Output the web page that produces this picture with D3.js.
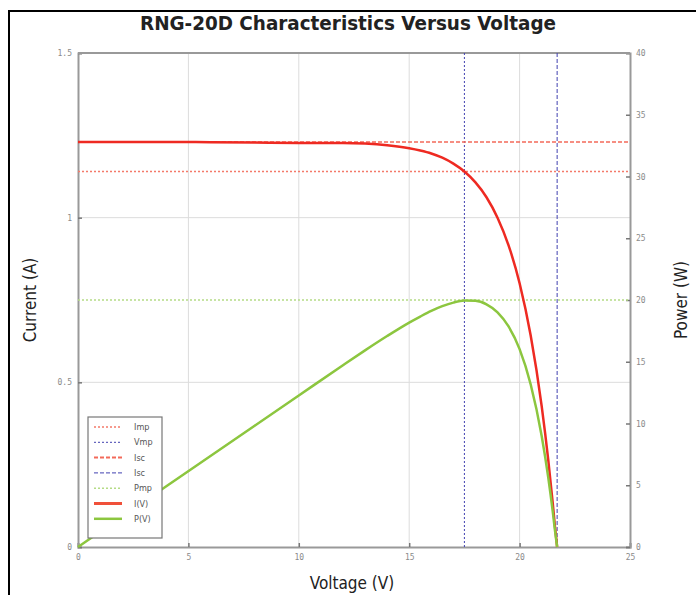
<!DOCTYPE html>
<html>
<head>
<meta charset="utf-8">
<script src="https://cdn.jsdelivr.net/npm/d3@7"></script>
<style>
  body { margin: 0; background: #fff; }
  .tick text { font-family: "DejaVu Sans Mono", monospace; font-size: 8px; fill: #8a8a8a; }
</style>
</head>
<body>
<div id="chart"></div>
<script>
// data
var voltage = [0, 2, 4, 6, 8, 10, 12, 13, 14, 15, 15.5, 16, 16.5, 17, 17.5, 18, 18.5, 19, 19.5, 20, 20.5, 21, 21.3, 21.5, 21.6, 21.7];
var current = [1.23, 1.23, 1.23, 1.229, 1.228, 1.227, 1.227, 1.225, 1.22, 1.211, 1.204, 1.195, 1.182, 1.164, 1.14, 1.107, 1.062, 1.0, 0.916, 0.801, 0.643, 0.428, 0.263, 0.134, 0.063, 0];
var power = [0, 2.46, 4.92, 7.37, 9.82, 12.27, 14.72, 15.92, 17.08, 18.17, 18.66, 19.12, 19.5, 19.79, 19.95, 19.93, 19.65, 19.0, 17.86, 16.02, 13.18, 8.99, 5.6, 2.88, 1.36, 0];

var Imp = 1.14, Vmp = 17.5, Isc = 1.23, Voc = 21.7, Pmp = 20;

var xTicks = [0, 5, 10, 15, 20, 25];
var yTicks = [0, 0.5, 1, 1.5];
var y2Ticks = [0, 5, 10, 15, 20, 25, 30, 35, 40];

var legendNames = ["Imp", "Vmp", "Isc", "Isc", "Pmp", "I(V)", "P(V)"];

var svgWidth = 696, svgHeight = 595;
var margin = {top: 53, right: 66, bottom: 48, left: 78};
var width = svgWidth - margin.left - margin.right;
var height = svgHeight - margin.top - margin.bottom;

var red = "#ee2a22", green = "#8cc63f", blue = "#4040b0";
var condensed = "'DejaVu Sans Condensed', 'Liberation Sans Narrow', 'Liberation Sans', sans-serif";

var svg = d3.select("#chart").append("svg")
  .attr("width", svgWidth)
  .attr("height", svgHeight);

// outer frame (left + top)
svg.append("path")
  .attr("d", "M9,595 L9,11 L696,11")
  .attr("fill", "none")
  .attr("stroke", "#000")
  .attr("stroke-width", 2);

var g = svg.append("g").attr("transform", `translate(${margin.left},${margin.top})`);

var x = d3.scaleLinear().domain([0, 25]).range([0, width]);
var y = d3.scaleLinear().domain([0, 1.5]).range([height, 0]);
var y2 = d3.scaleLinear().domain([0, 40]).range([height, 0]);

// grid
g.selectAll(".vgrid").data([5, 10, 15, 20]).enter().append("line")
  .attr("x1", d => x(d)).attr("x2", d => x(d))
  .attr("y1", 0).attr("y2", height)
  .attr("stroke", "#dcdcdc").attr("stroke-width", 1);
g.selectAll(".hgrid").data([0.5, 1]).enter().append("line")
  .attr("x1", 0).attr("x2", width)
  .attr("y1", d => y(d)).attr("y2", d => y(d))
  .attr("stroke", "#dcdcdc").attr("stroke-width", 1);

// axes
var bottomAxis = d3.axisBottom(x).tickValues(xTicks).tickSize(-4).tickPadding(7).tickFormat(d3.format("d"));
var leftAxis = d3.axisLeft(y).tickValues(yTicks).tickSize(-4).tickPadding(6).tickFormat(d => String(d));
var rightAxis = d3.axisRight(y2).tickValues(y2Ticks).tickSize(-4).tickPadding(6).tickFormat(d3.format("d"));

function styleAxis(sel) {
  sel.select(".domain").attr("stroke", "#999").attr("stroke-width", 2);
  sel.selectAll(".tick line").attr("stroke", "#777").attr("stroke-width", 1.5);
}

g.append("g").attr("transform", `translate(0,${height})`).call(bottomAxis).call(styleAxis);
g.append("g").call(leftAxis).call(styleAxis);
g.append("g").attr("transform", `translate(${width},0)`).call(rightAxis).call(styleAxis);
g.append("line").attr("x1", 0).attr("x2", width).attr("y1", 0).attr("y2", 0)
  .attr("stroke", "#999").attr("stroke-width", 2);

// reference lines
var refs = [
  {h: true, v: y(Imp), color: "#f47a6a", dash: "2,2", w: 1.5},
  {h: false, v: x(Vmp), color: blue, dash: "2,2", w: 1},
  {h: true, v: y(Isc), color: "#f36a5a", dash: "4,2", w: 1.5},
  {h: false, v: x(Voc), color: blue, dash: "4,2", w: 1},
  {h: true, v: y2(Pmp), color: "#b5dc86", dash: "2,2", w: 1.5}
];
refs.forEach(function(r) {
  g.append("line")
    .attr("x1", r.h ? 0 : r.v).attr("x2", r.h ? width : r.v)
    .attr("y1", r.h ? r.v : 0).attr("y2", r.h ? r.v : height)
    .attr("stroke", r.color).attr("stroke-width", r.w)
    .attr("stroke-dasharray", r.dash);
});

// curves
var iv = voltage.map((v, i) => [v, current[i]]);
var pv = voltage.map((v, i) => [v, power[i]]);

g.append("path").datum(iv)
  .attr("fill", "none").attr("stroke", red).attr("stroke-width", 2.5)
  .attr("d", d3.line().x(d => x(d[0])).y(d => y(d[1])).curve(d3.curveMonotoneX));
g.append("path").datum(pv)
  .attr("fill", "none").attr("stroke", green).attr("stroke-width", 2.5)
  .attr("d", d3.line().x(d => x(d[0])).y(d => y2(d[1])).curve(d3.curveMonotoneX));

// legend
var legendStyles = [
  {color: "#f47a6a", dash: "2,2", w: 1.5},
  {color: blue, dash: "2,2", w: 1},
  {color: "#f36a5a", dash: "4,2", w: 2},
  {color: blue, dash: "4,2", w: 1},
  {color: "#b5dc86", dash: "2,2", w: 1.5},
  {color: "#f0503a", dash: null, w: 3},
  {color: green, dash: null, w: 2.5}
];
var legend = svg.append("g").attr("transform", "translate(88,417)");
legend.append("rect").attr("width", 74).attr("height", 121)
  .attr("fill", "#fff").attr("stroke", "#777").attr("stroke-width", 1.2);
var rows = legend.selectAll(".row").data(legendNames).enter().append("g")
  .attr("transform", (d, i) => `translate(0,${10 + i * 15.3})`);
rows.append("line").attr("x1", 6).attr("x2", 34).attr("y1", 0).attr("y2", 0)
  .attr("stroke", (d, i) => legendStyles[i].color)
  .attr("stroke-width", (d, i) => legendStyles[i].w)
  .attr("stroke-dasharray", (d, i) => legendStyles[i].dash);
rows.append("text").attr("x", 46).attr("y", 3)
  .style("font-family", condensed)
  .style("font-size", "9px").style("fill", "#555")
  .text(d => d);

// titles
svg.append("text")
  .attr("x", 348).attr("y", 30)
  .attr("text-anchor", "middle")
  .attr("textLength", 416).attr("lengthAdjust", "spacingAndGlyphs")
  .style("font-family", condensed)
  .style("font-weight", "bold").style("font-size", "20px").style("fill", "#222")
  .text("RNG-20D Characteristics Versus Voltage");

svg.append("text")
  .attr("x", 352).attr("y", 589)
  .attr("text-anchor", "middle")
  .style("font-family", condensed)
  .style("font-size", "17px").style("fill", "#222")
  .text("Voltage (V)");

svg.append("text")
  .attr("transform", "translate(36,300) rotate(-90)")
  .attr("text-anchor", "middle")
  .style("font-family", condensed)
  .style("font-size", "17px").style("fill", "#222")
  .text("Current (A)");

svg.append("text")
  .attr("transform", "translate(687,300) rotate(-90)")
  .attr("text-anchor", "middle")
  .style("font-family", condensed)
  .style("font-size", "17px").style("fill", "#222")
  .text("Power (W)");
</script>
</body>
</html>
